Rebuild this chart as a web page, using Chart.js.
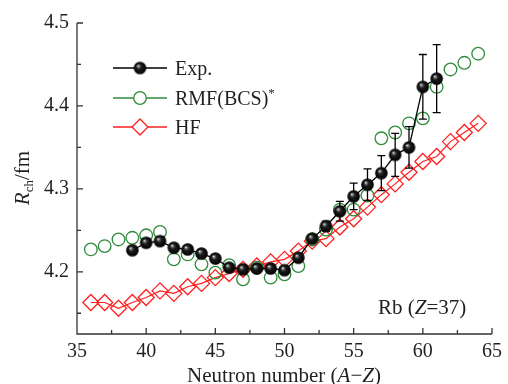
<!DOCTYPE html>
<html><head><meta charset="utf-8">
<script src="https://cdn.jsdelivr.net/npm/chart.js@4/dist/chart.umd.min.js"></script>
<style>html,body{margin:0;padding:0;background:#fff}canvas{display:block}</style>
</head><body>
<canvas id="c" width="508" height="384"></canvas>
<script>
// ---- data ----
const expN   = [39,40,41,42,43,44,45,46,47,48,49,50,51,52,53,54,55,56,57,58,59,60,61];
const expR   = [4.226,4.235,4.237,4.229,4.227,4.222,4.216,4.205,4.203,4.204,4.204,4.202,4.217,4.240,4.255,4.273,4.291,4.305,4.319,4.341,4.350,4.423,4.433];
const expErr = [0.003,0.005,0.005,0.003,0.004,0.003,0.003,0.004,0.004,0.004,0.004,0.004,0.004,0.004,0.006,0.012,0.016,0.019,0.021,0.026,0.025,0.039,0.041];
const rmfN   = [36,37,38,39,40,41,42,43,44,45,46,47,48,49,50,51,52,53,54,55,56,57,58,59,60,61,62,63,64];
const rmfR   = [4.227,4.231,4.239,4.241,4.244,4.248,4.215,4.221,4.209,4.199,4.208,4.191,4.205,4.193,4.197,4.207,4.239,4.251,4.275,4.275,4.292,4.361,4.368,4.379,4.385,4.423,4.444,4.452,4.463];
const hfN    = [36,37,38,39,40,41,42,43,44,45,46,47,48,49,50,51,52,53,54,55,56,57,58,59,60,61,62,63,64];
const hfR    = [4.163,4.163,4.156,4.163,4.169,4.177,4.174,4.182,4.186,4.193,4.198,4.203,4.207,4.212,4.215,4.225,4.237,4.240,4.254,4.264,4.278,4.293,4.306,4.320,4.333,4.339,4.357,4.368,4.379];
const xMajorTicks = [35,40,45,50,55,60,65];
const xMinorTicks = [37.5,42.5,47.5,52.5,57.5,62.5];
const yMajorTicks = [4.2,4.3,4.4,4.5];
const yMinorTicks = [4.15,4.25,4.35,4.45];
const seriesLabels = ['Exp.','RMF(BCS)','HF'];

// ---- styles ----
const SERIF = '"Liberation Serif","DejaVu Serif",serif';
const TEXT = '#231f20';
const AXIS = '#333';
const GREEN = '#2e8b3a';
const RED = '#ff1f1f';

function makeBall(r){
  const s = Math.ceil(2*r)+2;
  const c = document.createElement('canvas'); c.width = s; c.height = s;
  const g = c.getContext('2d'); const cx = s/2, cy = s/2;
  const grad = g.createRadialGradient(cx-r*0.3, cy-r*0.35, r*0.03, cx, cy, r);
  grad.addColorStop(0,'#ffffff'); grad.addColorStop(0.12,'#8a8a8a');
  grad.addColorStop(0.4,'#1c1c1c'); grad.addColorStop(1,'#000');
  g.fillStyle = grad; g.beginPath(); g.arc(cx,cy,r,0,Math.PI*2); g.fill();
  return c;
}
const ball = makeBall(6.3);

const toXY = (xs, ys) => xs.map((x,i)=>({x:x, y:ys[i]}));

function drawRuns(ctx, runs, x, y, align){
  let total = 0;
  runs.forEach(r=>{ ctx.font = (r.italic?'italic ':'') + r.size + 'px ' + SERIF; r.w = ctx.measureText(r.t).width; total += r.w; });
  let cx = align==='center' ? x - total/2 : (align==='right' ? x - total : x);
  ctx.textAlign = 'left'; ctx.textBaseline = 'alphabetic';
  runs.forEach(r=>{ ctx.font = (r.italic?'italic ':'') + r.size + 'px ' + SERIF; ctx.fillText(r.t, cx, y + (r.dy||0)); cx += r.w; });
}

const errorBars = {
  id:'errorBars',
  beforeDatasetDraw(chart, args){
    if (args.index !== 0) return;
    const {ctx, scales:{x, y}} = chart;
    ctx.save(); ctx.strokeStyle = '#000'; ctx.lineWidth = 1.3;
    expN.forEach((n,i)=>{
      const px = x.getPixelForValue(n);
      const top = y.getPixelForValue(expR[i]+expErr[i]);
      const bot = y.getPixelForValue(expR[i]-expErr[i]);
      ctx.beginPath();
      ctx.moveTo(px, top); ctx.lineTo(px, bot);
      ctx.moveTo(px-4, top); ctx.lineTo(px+4, top);
      ctx.moveTo(px-4, bot); ctx.lineTo(px+4, bot);
      ctx.stroke();
    });
    ctx.restore();
  }
};

const decor = {
  id:'decor',
  afterDraw(chart){
    const {ctx, chartArea:a, scales:{x, y}} = chart;
    ctx.save();
    ctx.strokeStyle = AXIS; ctx.lineWidth = 1.3;
    ctx.beginPath();
    ctx.moveTo(a.left, a.top); ctx.lineTo(a.left, a.bottom); ctx.lineTo(a.right, a.bottom);
    xMajorTicks.forEach(v=>{ const p = x.getPixelForValue(v); ctx.moveTo(p, a.bottom); ctx.lineTo(p, a.bottom-6); });
    xMinorTicks.forEach(v=>{ const p = x.getPixelForValue(v); ctx.moveTo(p, a.bottom); ctx.lineTo(p, a.bottom-4); });
    yMajorTicks.forEach(v=>{ const p = y.getPixelForValue(v); ctx.moveTo(a.left, p); ctx.lineTo(a.left+6, p); });
    yMinorTicks.forEach(v=>{ const p = y.getPixelForValue(v); ctx.moveTo(a.left, p); ctx.lineTo(a.left+4, p); });
    ctx.stroke();

    ctx.fillStyle = TEXT;
    // x title
    drawRuns(ctx, [{t:'Neutron number (',size:21},{t:'A',size:21,italic:true},{t:'\u2212',size:21},{t:'Z',size:21,italic:true},{t:')',size:21}], 284, 382, 'center');
    // y title
    ctx.save(); ctx.translate(29, 178); ctx.rotate(-Math.PI/2);
    drawRuns(ctx, [{t:'R',size:21,italic:true},{t:'ch',size:13,dy:4},{t:'/fm',size:21}], 0, 0, 'center');
    ctx.restore();
    // Rb label
    drawRuns(ctx, [{t:'Rb (',size:21},{t:'Z',size:21,italic:true},{t:'=37)',size:21}], 378, 314, 'left');

    // legend
    const rows = [68, 98, 127];
    const ds = chart.data.datasets;
    rows.forEach((ry,i)=>{
      const d = ds[i];
      ctx.strokeStyle = d.borderColor; ctx.lineWidth = 1.3;
      ctx.beginPath(); ctx.moveTo(113, ry); ctx.lineTo(167, ry); ctx.stroke();
      if (i===0){ ctx.drawImage(ball, 140-ball.width/2, ry-ball.height/2); }
      else {
        ctx.fillStyle = '#fff'; ctx.strokeStyle = d.pointBorderColor; ctx.lineWidth = 1.3;
        ctx.beginPath();
        if (d.pointStyle==='circle') ctx.arc(140, ry, d.pointRadius, 0, Math.PI*2);
        else { const r = d.pointRadius; ctx.moveTo(140-r,ry); ctx.lineTo(140,ry-r); ctx.lineTo(140+r,ry); ctx.lineTo(140,ry+r); ctx.closePath(); }
        ctx.fill(); ctx.stroke();
      }
      ctx.fillStyle = TEXT;
      const runs = [{t:d.label,size:20}];
      if (i===1) runs.push({t:'*',size:13,dy:-8});
      drawRuns(ctx, runs, 175, ry+7, 'left');
    });
    ctx.restore();
  }
};

new Chart(document.getElementById('c'), {
  type:'line',
  data:{ datasets:[
    { label:seriesLabels[0], data:toXY(expN, expR), borderColor:'#000', borderWidth:1.3,
      pointStyle:ball, pointRadius:6, showLine:true, tension:0 },
    { label:seriesLabels[1], data:toXY(rmfN, rmfR), borderColor:GREEN, pointBorderColor:GREEN,
      pointBackgroundColor:'rgba(0,0,0,0)', pointStyle:'circle', pointRadius:6.3, pointBorderWidth:1.3, showLine:false },
    { label:seriesLabels[2], data:toXY(hfN, hfR), borderColor:RED, pointBorderColor:RED, borderWidth:1.2,
      pointBackgroundColor:'rgba(0,0,0,0)', pointStyle:'rectRot', pointRadius:8, pointBorderWidth:1.3, showLine:true, tension:0 }
  ]},
  options:{
    responsive:false, animation:false, devicePixelRatio:1,
    layout:{ padding:{ left:0, right:16, top:23, bottom:0 } },
    plugins:{ legend:{display:false}, tooltip:{enabled:false} },
    scales:{
      x:{ type:'linear', min:35, max:65,
        grid:{display:false, drawTicks:false, tickLength:0}, border:{display:false},
        afterBuildTicks(s){ s.ticks = xMajorTicks.map(v=>({value:v})); },
        afterFit(s){ s.height = 50; },
        ticks:{ font:{family:SERIF, size:20}, color:TEXT, padding:6, maxRotation:0, autoSkip:false } },
      y:{ type:'linear', min:4.125, max:4.5,
        grid:{display:false, drawTicks:false, tickLength:0}, border:{display:false},
        afterBuildTicks(s){ s.ticks = yMajorTicks.map(v=>({value:v})); },
        afterFit(s){ s.width = 77; },
        ticks:{ font:{family:SERIF, size:20}, color:TEXT, padding:8, autoSkip:false,
          callback:(v)=>Number(v).toFixed(1) } }
    }
  },
  plugins:[errorBars, decor]
});
</script>
</body></html>
